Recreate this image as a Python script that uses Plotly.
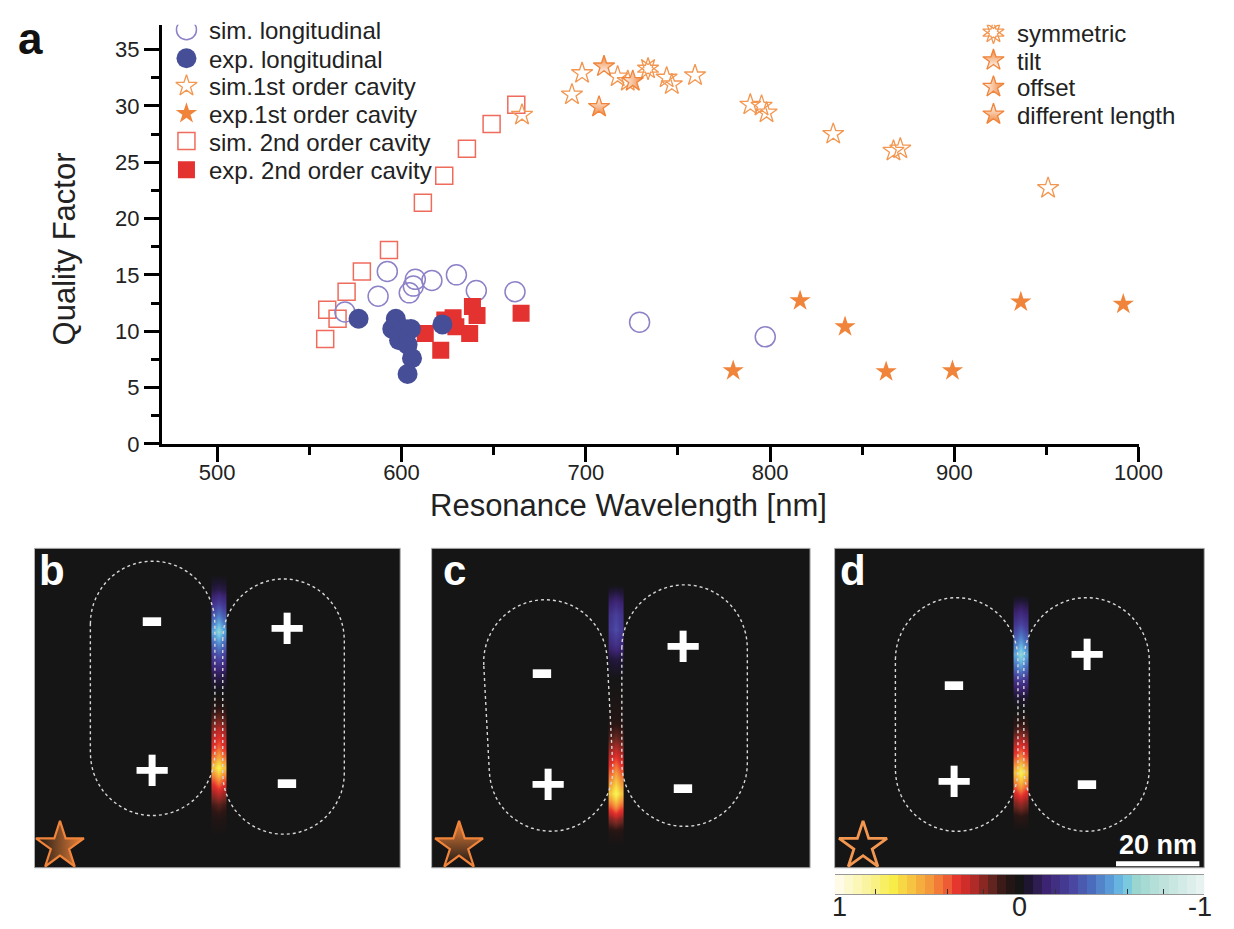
import numpy as np
import plotly.graph_objects as go

# ---------------- data ----------------
sim_long_x = [569.3, 587.3, 592.3, 604.2, 606.4, 607.5, 616.5, 629.8, 640.6, 661.6, 729.2, 797.4]
sim_long_q = [11.7, 13.1, 15.3, 13.4, 14.0, 14.6, 14.5, 15.0, 13.6, 13.5, 10.8, 9.5]

exp_long_x = [576.7, 596.9, 595.0, 601.5, 605.1, 598.7, 603.3, 605.7, 603.3, 622.2]
exp_long_q = [11.1, 11.1, 10.2, 10.2, 10.2, 9.2, 8.8, 7.6, 6.2, 10.6]

sim1_x = [665.4, 692.5, 698.0, 717.3, 722.8, 743.9, 746.7, 759.3, 789.3, 795.4, 798.1, 834.3, 867.0, 870.7, 950.9]
sim1_q = [29.2, 31.0, 32.9, 32.6, 32.2, 32.5, 31.9, 32.7, 30.1, 30.0, 29.4, 27.5, 26.0, 26.2, 22.7]

exp1_x = [780.0, 816.3, 840.7, 863.0, 899.0, 936.1, 991.7]
exp1_q = [6.5, 12.7, 10.4, 6.4, 6.5, 12.6, 12.4]

sim2_x = [558.6, 565.3, 559.7, 570.2, 578.5, 593.2, 611.6, 623.2, 635.5, 648.9, 662.3]
sim2_q = [9.3, 11.1, 11.9, 13.5, 15.3, 17.2, 21.4, 23.8, 26.2, 28.4, 30.1]

exp2_x = [612.9, 621.3, 623.5, 628.0, 629.5, 637.0, 638.5, 641.0, 664.9]
exp2_q = [9.8, 8.3, 11.0, 11.2, 10.4, 9.8, 12.2, 11.4, 11.6]

sym_x, sym_q = [733.8], [33.3]
tilt_x, tilt_q = [709.9], [33.5]
offset_x, offset_q = [725.5], [32.2]
difflen_x, difflen_q = [707.2], [29.9]

legend_left = ['sim. longitudinal', 'exp. longitudinal', 'sim.1st order cavity',
               'exp.1st order cavity', 'sim. 2nd order cavity', 'exp. 2nd order cavity']
legend_right = ['symmetric', 'tilt', 'offset', 'different length']

# near-field profiles along each gap (local panel y, field value; +1 = "1" end of colour bar)
field_b_y = [27, 42, 57, 72, 84, 97, 112, 127, 142, 157, 172, 187, 202, 212, 222, 234, 247, 260, 274, 292]
field_b_v = [0, -0.1, -0.3, -0.5, -0.66, -0.48, -0.3, -0.12, -0.02, 0.05, 0.16, 0.3, 0.42, 0.55, 0.74, 0.5, 0.3, 0.14, 0.05, 0]
field_c_y = [37, 52, 67, 82, 97, 112, 132, 172, 192, 207, 222, 237, 249, 262, 274, 287, 302]
field_c_v = [0, -0.15, -0.28, -0.32, -0.22, -0.08, 0, 0.05, 0.16, 0.3, 0.45, 0.62, 0.76, 0.5, 0.24, 0.06, 0]
field_d_y = [47, 62, 77, 92, 107, 122, 137, 152, 167, 182, 197, 212, 227, 242, 257, 272, 287]
field_d_v = [0, -0.15, -0.3, -0.48, -0.66, -0.48, -0.22, -0.05, 0.02, 0.13, 0.3, 0.48, 0.74, 0.5, 0.25, 0.08, 0]
gap_offsets = [-5, 0, 5]        # across-gap sampling (px)
gap_weights = [0.8, 1.0, 0.8]   # relative field strength across the gap

cb_levels = [1.0, 0.95, 0.9, 0.85, 0.8, 0.75, 0.7, 0.65, 0.6, 0.55, 0.5, 0.45, 0.4, 0.35, 0.3, 0.25, 0.2, 0.15,
             0.1, 0.05, 0.0, -0.05, -0.1, -0.15, -0.2, -0.25, -0.3, -0.35, -0.4, -0.45, -0.5, -0.55, -0.6,
             -0.65, -0.7, -0.75, -0.8, -0.85, -0.9, -0.95, -1.0]
cb_tick_vals = [1, 0, -1]
cb_tick_text = ['1', '0', '-1']

# ---------------- helpers / styles ----------------
FW, FH = 1234, 929
def px(x): return x / FW
def py(y): return 1 - y / FH

FONT = "Liberation Sans, Arial, Helvetica, sans-serif"
TXT = '#222222'
C_SIMLONG = '#8c82c8'
C_EXPLONG = '#464e98'
C_STAR_OPEN = '#f39650'
C_STAR = '#f0843a'
C_SQ_OPEN = '#ef6b5c'
C_SQ = '#e3322f'
BG = '#151515'

CS = [[0.0, '#e6f3f0'], [0.1, '#bfe3dc'], [0.175, '#9ad6cf'], [0.21, '#6ec4e6'], [0.25, '#5a9ad6'],
      [0.3, '#4b6cbc'], [0.36, '#48409c'], [0.425, '#3c2472'], [0.475, '#1e1630'], [0.5, BG],
      [0.54, '#2c1614'], [0.58, '#6a2620'], [0.63, '#b82a28'], [0.67, '#e4302c'], [0.71, '#f06a36'],
      [0.75, '#f4983c'], [0.8, '#f6c440'], [0.85, '#f8ec48'], [0.925, '#faf4a0'], [1.0, '#fffbe6']]

# marker styles of each series: (symbol, size, fill, line colour, line width, angle, gradient)
STY = {
    'sim. longitudinal': ('circle-open', 20, C_SIMLONG, C_SIMLONG, 1.5, 0, None),
    'exp. longitudinal': ('circle', 20, C_EXPLONG, C_EXPLONG, 0, 0, None),
    'sim.1st order cavity': ('star-open', 16, C_STAR_OPEN, C_STAR_OPEN, 1.3, 0, None),
    'exp.1st order cavity': ('star', 16, C_STAR, C_STAR, 0, 0, None),
    'sim. 2nd order cavity': ('square-open', 17, C_SQ_OPEN, C_SQ_OPEN, 1.5, 0, None),
    'exp. 2nd order cavity': ('square', 17, C_SQ, C_SQ, 0, 0, None),
    'symmetric': ('star-open', 16, C_STAR_OPEN, C_STAR_OPEN, 1.3, 0, None),
    'symmetric2': ('star-open', 16, C_STAR_OPEN, C_STAR_OPEN, 1.3, 180, None),
    'tilt': ('star', 16, C_STAR, C_STAR, 1.3, 0, dict(type='vertical', color='white')),
    'offset': ('star', 16, 'white', C_STAR, 1.3, 0, dict(type='horizontal', color=C_STAR)),
    'different length': ('star', 16, 'white', C_STAR, 1.3, 0, dict(type='vertical', color=C_STAR)),
}

fig = go.Figure()


def add_pts(x, y, style, xa='x', ya='y', size=None, lw=None, fill=None, grad=None):
    sym, sz, col, lc, w, ang, g = STY[style]
    m = dict(symbol=sym, size=size or sz, color=fill or col,
             line=dict(color=lc, width=w if lw is None else lw), angle=ang)
    gg = grad if grad is not None else g
    if gg:
        m['gradient'] = gg
    fig.add_trace(go.Scatter(x=x, y=y, mode='markers', name=style.rstrip('2'), marker=m,
                             showlegend=False, xaxis=xa, yaxis=ya, hoverinfo='skip'))


# drawing order (back -> front)
add_pts(sim2_x, sim2_q, 'sim. 2nd order cavity')
add_pts(sim_long_x, sim_long_q, 'sim. longitudinal')
add_pts(sim1_x, sim1_q, 'sim.1st order cavity')
add_pts(exp2_x, exp2_q, 'exp. 2nd order cavity')
add_pts(exp_long_x, exp_long_q, 'exp. longitudinal')
add_pts(exp1_x, exp1_q, 'exp.1st order cavity')
add_pts(sym_x, sym_q, 'symmetric')
add_pts(sym_x, sym_q, 'symmetric2')
add_pts(tilt_x, tilt_q, 'tilt')
add_pts(offset_x, offset_q, 'offset')
add_pts(difflen_x, difflen_q, 'different length')

shapes, annotations, layout_axes = [], [], {}

# ---------------- hand-placed legends (key column + text column, pixel layout) ----------------
LEG1_KEY_X, LEG1_TXT_X, LEG1_ROWS = 182, 203, [22, 51, 79, 107, 135, 164]
LEG2_KEY_X, LEG2_TXT_X, LEG2_ROWS = 1005, 1027, [25, 53, 80, 108]
layout_axes['xaxis6'] = dict(overlaying='x', range=[157, 1153], visible=False, anchor='y6', fixedrange=True)
layout_axes['yaxis6'] = dict(overlaying='y', range=[442, 17], visible=False, anchor='x6', fixedrange=True)
for names, kx, tx, rows in [(legend_left, LEG1_KEY_X, LEG1_TXT_X, LEG1_ROWS),
                            (legend_right, LEG2_KEY_X, LEG2_TXT_X, LEG2_ROWS)]:
    for name, ry in zip(names, rows):
        add_pts([kx], [ry], name, xa='x6', ya='y6')
        if name == 'symmetric':
            add_pts([kx], [ry], 'symmetric2', xa='x6', ya='y6')
        annotations.append(dict(text=name, xref='paper', yref='paper', x=px(tx), y=py(ry + 1),
                                xanchor='left', yanchor='middle', showarrow=False,
                                font=dict(family=FONT, size=24, color=TXT)))

# ---------------- lower panels ----------------
panels = {
    'b': dict(ax=2, x0=27, x1=400, gx=188, fy=field_b_y, fv=field_b_v, lab=(18, 22), star=(26, 302),
              rods=[(120.5, 142, 127, 258, 0), (254, 160.5, 124, 259, 0)],
              signs=[('-', 120, 68), ('+', 258, 80), ('+', 120, 224), ('-', 258, 232)]),
    'c': dict(ax=3, x0=432, x1=818, gx=188, fy=field_c_y, fv=field_c_v, lab=(23, 22), star=(28, 302),
              rods=[(119, 169.5, 126, 235, -3), (258, 159.5, 128, 245, 0)],
              signs=[('-', 113, 120), ('+', 256, 99), ('+', 119, 239), ('-', 256, 237)]),
    'd': dict(ax=4, x0=843, x1=1220, gx=190, fy=field_d_y, fv=field_d_v, lab=(19, 22), star=(29, 302),
              rods=[(124.5, 168.5, 125, 237, 0), (257, 168.5, 128, 237, 0)],
              signs=[('-', 122, 133), ('+', 257, 107), ('+', 122, 235), ('-', 257, 233)]),
}
PY0, PY1 = 548, 872


def stadium(cx, cy, w, L, ang=0.0, n=30):
    r = w / 2
    h = L / 2 - r
    pts = []
    for a in np.linspace(np.pi, 2 * np.pi, n):
        pts.append((r * np.cos(a), -h + r * np.sin(a)))
    for a in np.linspace(0, np.pi, n):
        pts.append((r * np.cos(a), h + r * np.sin(a)))
    ca, sa = np.cos(np.radians(ang)), np.sin(np.radians(ang))
    out = [(cx + x * ca - y * sa, cy + x * sa + y * ca) for x, y in pts]
    return 'M ' + ' L '.join(f'{x:.1f},{y:.1f}' for x, y in out) + ' Z'


for key, p in panels.items():
    n = p['ax']
    xa, ya = f'x{n}', f'y{n}'
    w = p['x1'] - p['x0']
    hgt = PY1 - PY0
    layout_axes[f'xaxis{n}'] = dict(domain=[px(p['x0']), px(p['x1'])], range=[0, w], visible=False,
                                    anchor=ya, fixedrange=True)
    layout_axes[f'yaxis{n}'] = dict(domain=[py(PY1), py(PY0)], range=[hgt, 0], visible=False,
                                    anchor=xa, fixedrange=True)
    shapes.append(dict(type='rect', xref=f'{xa} domain', yref=f'{ya} domain', x0=0, x1=1, y0=0, y1=1,
                       fillcolor=BG, line=dict(color='#b0b0b0', width=1), layer='below'))
    gx = p['gx']
    fig.add_trace(go.Heatmap(x=[gx + o for o in gap_offsets], y=p['fy'],
                             z=[[v * wgt for wgt in gap_weights] for v in p['fv']],
                             colorscale=CS, zmin=-1, zmax=1, zsmooth='best', showscale=False,
                             xaxis=xa, yaxis=ya, hoverinfo='skip'))
    for (cx, cy, rw, rl, ang) in p['rods']:
        shapes.append(dict(type='path', xref=xa, yref=ya, path=stadium(cx, cy, rw, rl, ang),
                           line=dict(color='#d8d8d8', width=1.4, dash='dot'), layer='above'))
    for s, sx, sy in p['signs']:
        annotations.append(dict(text=f'<b>{s}</b>', xref=xa, yref=ya, x=sx, y=sy, showarrow=False,
                                font=dict(family=FONT, size=72 if s == '-' else 62, color='white'),
                                xanchor='center', yanchor='middle'))
    annotations.append(dict(text=f'<b>{key}</b>', xref=xa, yref=ya, x=p['lab'][0], y=p['lab'][1],
                            showarrow=False, font=dict(family=FONT, size=42, color='white'),
                            xanchor='center', yanchor='middle'))

# panel icons (star type of each geometry)
sx, sy = panels['b']['star']
add_pts([sx], [sy], 'offset', xa='x2', ya='y2', size=36, lw=2.2, fill=BG,
        grad=dict(type='horizontal', color=C_STAR))
sx, sy = panels['c']['star']
add_pts([sx], [sy], 'tilt', xa='x3', ya='y3', size=36, lw=2.2, fill=C_STAR,
        grad=dict(type='vertical', color=BG))
sx, sy = panels['d']['star']
add_pts([sx], [sy], 'symmetric', xa='x4', ya='y4', size=36, lw=2.8)

# scale bar in d
shapes.append(dict(type='line', xref='x4', yref='y4', x0=287, x1=372, y0=320, y1=320,
                   line=dict(color='white', width=5)))
annotations.append(dict(text='<b>20 nm</b>', xref='x4', yref='y4', x=330, y=301, showarrow=False,
                        font=dict(family=FONT, size=27, color='white'), xanchor='center', yanchor='middle'))

# colour bar (as its own small axis); labels placed as annotations so they stay inside the page
fig.add_trace(go.Heatmap(x=cb_levels, y=[0], z=[cb_levels], colorscale=CS, zmin=-1, zmax=1,
                         showscale=False, xaxis='x5', yaxis='y5', hoverinfo='skip'))
layout_axes['xaxis5'] = dict(domain=[px(843), px(1220)], range=[1.025, -1.025], anchor='y5',
                             tickmode='array', tickvals=[0.8, 0.4, 0.2, -0.2, -0.6, -0.8],
                             showticklabels=False,
                             ticks='inside', ticklen=5, tickwidth=1, tickcolor='#333',
                             showline=True, mirror=True, linecolor='#999', linewidth=1,
                             showgrid=False, zeroline=False, fixedrange=True)
layout_axes['yaxis5'] = dict(domain=[py(899), py(879)], range=[-0.5, 0.5], visible=False,
                             anchor='x5', fixedrange=True)
for v, t in zip(cb_tick_vals, cb_tick_text):
    annotations.append(dict(text=t, xref='x5', yref='paper', x=v, y=0, xanchor='center', yanchor='bottom',
                            showarrow=False, font=dict(family=FONT, size=27, color=TXT)))

# ---------------- main axes & text ----------------
axis_common = dict(showline=True, linewidth=3, linecolor='black', ticks='outside', tickwidth=3,
                   tickcolor='black', showgrid=False, zeroline=False, ticklen=15,
                   tickfont=dict(family=FONT, size=22, color=TXT), fixedrange=True)

annotations += [
    dict(text='Resonance Wavelength [nm]', xref='paper', yref='paper', x=px(633), y=py(505),
         showarrow=False, font=dict(family=FONT, size=31, color=TXT), xanchor='center', yanchor='middle'),
    dict(text='Quality Factor', xref='paper', yref='paper', x=px(58), y=py(244), textangle=-90,
         showarrow=False, font=dict(family=FONT, size=31, color=TXT), xanchor='center', yanchor='middle'),
    dict(text='<b>a</b>', xref='paper', yref='paper', x=px(23), y=py(31), showarrow=False,
         font=dict(family=FONT, size=44, color='#111'), xanchor='center', yanchor='middle'),
]

fig.update_layout(
    width=FW, height=FH, margin=dict(l=0, r=0, t=0, b=0),
    paper_bgcolor='white', plot_bgcolor='white', showlegend=False,
    font=dict(family=FONT, color=TXT),
    xaxis=dict(domain=[px(157), px(1153)], range=[470, 1000], tick0=500, dtick=100, ticklabelstandoff=-8,
               minor=dict(dtick=50, ticks='outside', ticklen=8, tickwidth=3, tickcolor='black'),
               anchor='y', **axis_common),
    yaxis=dict(domain=[py(442), py(17)], range=[0, 37.2], tick0=0, dtick=5,
               minor=dict(dtick=2.5, ticks='outside', ticklen=8, tickwidth=3, tickcolor='black'),
               anchor='x', **axis_common),
    shapes=shapes, annotations=annotations,
    **layout_axes,
)

fig.write_html('out.html')
